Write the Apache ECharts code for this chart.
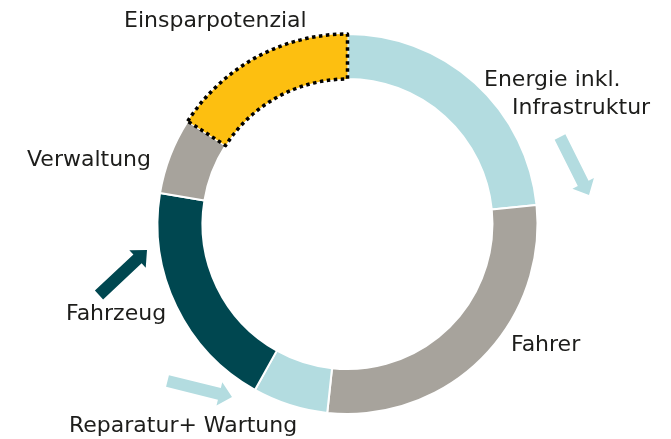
<!DOCTYPE html>
<html>
<head>
<meta charset="utf-8">
<script src="https://cdn.jsdelivr.net/npm/echarts@6/dist/echarts.min.js"></script>
<style>
  html, body { margin: 0; padding: 0; background: #fff; }
  #chart { width: 671px; height: 439px; }
</style>
</head>
<body>
<div id="chart"></div>
<script>
// Kostenanteile (geschaetzt aus dem Bild, in %)
var categories = ['Energie inkl. Infrastruktur', 'Fahrer', 'Reparatur+ Wartung', 'Fahrzeug', 'Verwaltung', 'Einsparpotenzial']
var shares = [23.4, 28.3, 6.4, 19.5, 6.5, 15.9]
var colors = ['#b3dce0', '#a7a39c', '#b3dce0', '#004750', '#a7a39c', '#fdbf10']

var textColor = '#1d1d1b'
var font = '"DejaVu Sans", sans-serif'

// Pfeil als Polygon: Schaft + Spitze
function arrow(tail, tip, color) {
    var dx = tip[0] - tail[0], dy = tip[1] - tail[1]
    var len = Math.sqrt(dx * dx + dy * dy)
    var ux = dx / len, uy = dy / len
    var nx = -uy, ny = ux
    var sw = 6, hw = 12, hl = 13
    var bx = tip[0] - ux * hl, by = tip[1] - uy * hl
    return {
        type: 'polygon',
        silent: true,
        shape: {
            points: [
                [tail[0] + nx * sw, tail[1] + ny * sw],
                [bx + nx * sw, by + ny * sw],
                [bx + nx * hw, by + ny * hw],
                tip,
                [bx - nx * hw, by - ny * hw],
                [bx - nx * sw, by - ny * sw],
                [tail[0] - nx * sw, tail[1] - ny * sw]
            ]
        },
        style: { fill: color }
    }
}

function label(text, x, y) {
    return {
        type: 'text',
        silent: true,
        left: x,
        top: y,
        style: { text: text, fill: textColor, font: '22px ' + font }
    }
}

var chart = echarts.init(document.getElementById('chart'))

var pieData = categories.map(function (name, i) {
    var item = { name: name, value: shares[i], itemStyle: { color: colors[i] } }
    if (name === 'Einsparpotenzial') {
        item.itemStyle.borderColor = '#000'
        item.itemStyle.borderWidth = 3.5
        item.itemStyle.borderType = 'dotted'
    }
    return item
})

chart.setOption({
    animation: false,
    series: [{
        type: 'pie',
        center: [347.5, 224],
        radius: [145, 190],
        startAngle: 90,
        clockwise: true,
        silent: true,
        label: { show: false },
        labelLine: { show: false },
        itemStyle: { borderColor: '#fff', borderWidth: 2 },
        data: pieData
    }],
    graphic: [
        label('Einsparpotenzial', 124, 10),
        label('Energie inkl.', 484, 69),
        label('Infrastruktur', 512, 97),
        label('Verwaltung', 27, 149),
        label('Fahrzeug', 66, 303),
        label('Fahrer', 511, 334),
        label('Reparatur+ Wartung', 69, 415),
        arrow([560, 137], [589, 195], '#b3dce0'),
        arrow([99, 295], [147, 250], '#004750'),
        arrow([167.5, 381], [232, 397], '#b3dce0')
    ]
})
</script>
</body>
</html>
